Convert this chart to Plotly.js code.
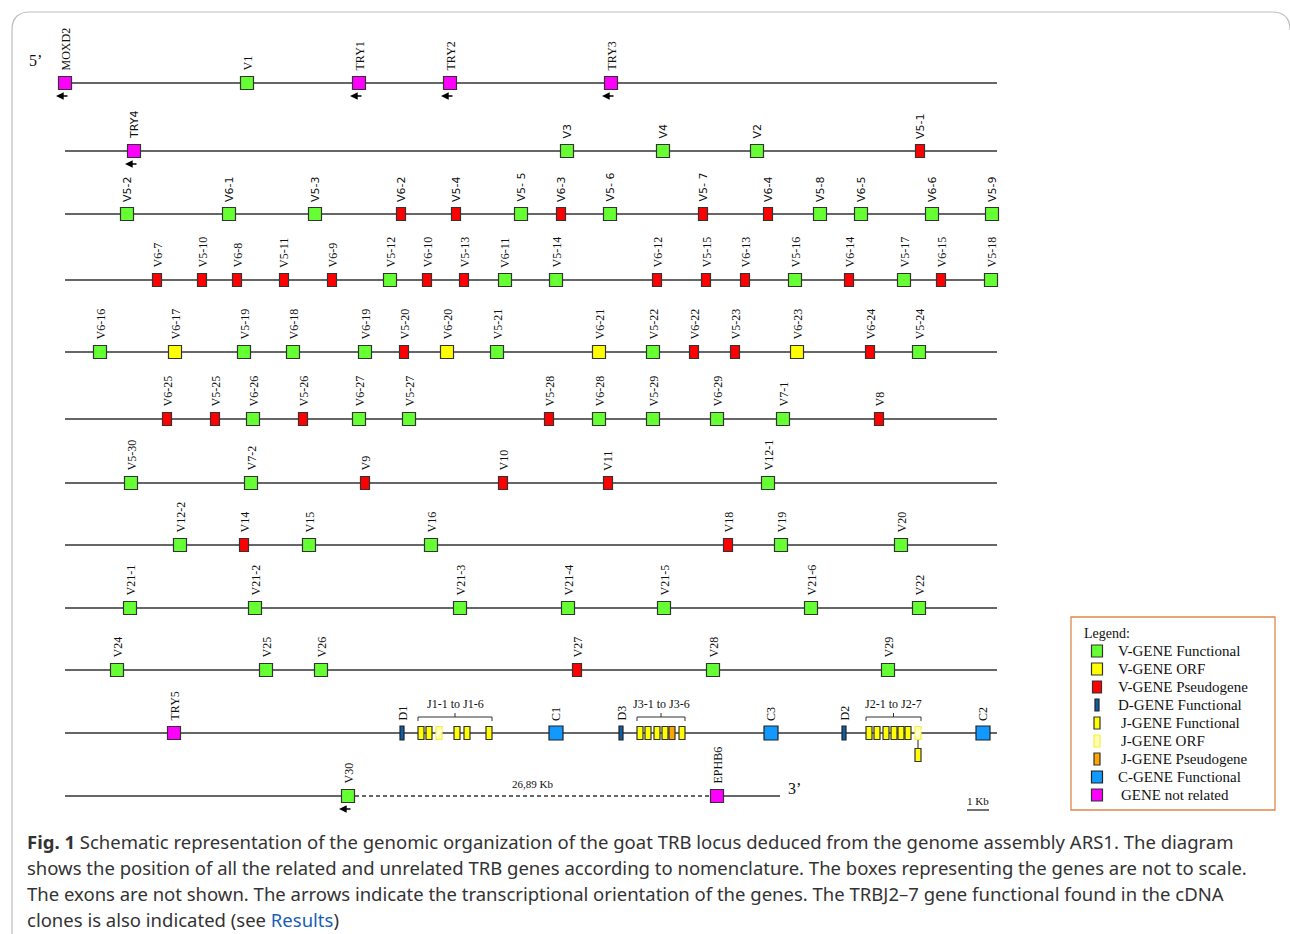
<!DOCTYPE html>
<html><head><meta charset="utf-8">
<script src="https://cdn.plot.ly/plotly-3.0.1.min.js"></script>
<style>html,body{margin:0;padding:0;background:#fff}#chart{width:1290px;height:934px}</style>
</head><body><div id="chart"></div>
<script>
// ---------------- DATA ----------------
const row1Genes = ["MOXD2","V1","TRY1","TRY2","TRY3"];
const row1Pos   = [65,247,359,450,611];
const row1Type  = ["N","F","N","N","N"];

const row2Genes = ["TRY4","V3","V4","V2","V5-1"];
const row2Pos   = [134,567,663,757,920];
const row2Type  = ["N","F","F","F","P"];

const row3Genes = ["V5-2","V6-1","V5-3","V6-2","V5-4","V5- 5","V6-3","V5- 6","V5- 7","V6-4","V5-8","V6-5","V6-6","V5-9"];
const row3Pos   = [127,229,315,401,456,521,561,610,703,768,820,861,932,992];
const row3Type  = ["F","F","F","P","P","F","P","F","P","P","F","F","F","F"];

const row4Genes = ["V6-7","V5-10","V6-8","V5-11","V6-9","V5-12","V6-10","V5-13","V6-11","V5-14","V6-12","V5-15","V6-13","V5-16","V6-14","V5-17","V6-15","V5-18"];
const row4Pos   = [157,202,237,284,332,390,427,464,505,556,657,706,745,795,849,904,941,991];
const row4Type  = ["P","P","P","P","P","F","P","P","F","F","P","P","P","F","P","F","P","F"];

const row5Genes = ["V6-16","V6-17","V5-19","V6-18","V6-19","V5-20","V6-20","V5-21","V6-21","V5-22","V6-22","V5-23","V6-23","V6-24","V5-24"];
const row5Pos   = [100,175,244,293,365,404,447,497,599,653,694,735,797,870,919];
const row5Type  = ["F","O","F","F","F","P","O","F","O","F","P","P","O","P","F"];

const row6Genes = ["V6-25","V5-25","V6-26","V5-26","V6-27","V5-27","V5-28","V6-28","V5-29","V6-29","V7-1","V8"];
const row6Pos   = [167,215,253,303,359,409,549,599,653,717,783,879];
const row6Type  = ["P","P","F","P","F","F","P","F","F","F","F","P"];

const row7Genes = ["V5-30","V7-2","V9","V10","V11","V12-1"];
const row7Pos   = [131,251,365,503,608,768];
const row7Type  = ["F","F","P","P","P","F"];

const row8Genes = ["V12-2","V14","V15","V16","V18","V19","V20"];
const row8Pos   = [180,244,309,431,728,781,901];
const row8Type  = ["F","P","F","F","P","F","F"];

const row9Genes = ["V21-1","V21-2","V21-3","V21-4","V21-5","V21-6","V22"];
const row9Pos   = [130,255,460,568,664,811,919];
const row9Type  = ["F","F","F","F","F","F","F"];

const row10Genes = ["V24","V25","V26","V27","V28","V29"];
const row10Pos   = [117,266,321,577,713,888];
const row10Type  = ["F","F","F","P","F","F"];

const row11Genes = ["TRY5","D1","C1","D3","C3","D2","C2"];
const row11Pos   = [174,402,556,621,771,844,983];
const row11Type  = ["N","D","C","D","C","D","C"];

const j1Pos  = [421,429,439,457,467,489];
const j1Type = ["J","J","JO","J","J","J"];
const j3Pos  = [640,648,657,665,672,682];
const j3Type = ["J","J","J","J","JP","J"];
const j2Pos  = [869,877,886,894,901,908,918];
const j2Type = ["J","J","J","J","J","J","JO"];
const jClusterLabels = ["J1-1 to J1-6","J3-1 to J3-6","J2-1 to J2-7"];
const cDNAJ = {pos: 918, type: "J"};

const row12Genes = ["V30","EPHB6"];
const row12Pos   = [348,717];
const row12Type  = ["F","N"];
const gapLabel   = "26,89 Kb";

const reverseGenes = ["MOXD2","TRY1","TRY2","TRY3","TRY4","V30"];

const legendLabels = ["V-GENE Functional","V-GENE ORF","V-GENE Pseudogene","D-GENE Functional","J-GENE Functional","J-GENE ORF","J-GENE Pseudogene","C-GENE Functional","GENE not related"];
const legendTypes  = ["F","O","P","D","J","JO","JP","C","N"];

const captionLines = [
  "<b>Fig. 1</b> Schematic representation of the genomic organization of the goat TRB locus deduced from the genome assembly ARS1. The diagram",
  "shows the position of all the related and unrelated TRB genes according to nomenclature. The boxes representing the genes are not to scale.",
  "The exons are not shown. The arrows indicate the transcriptional orientation of the genes. The TRBJ2–7 gene functional found in the cDNA",
  "clones is also indicated (see <span style=\"color:#1a5fb4\">Results</span>)"
];

// ---------------- STYLE / LAYOUT ----------------
const STY = {
  F:  {fill:'#66ff33', w:13, h:13, line:'#333'},
  O:  {fill:'#ffff00', w:13, h:13, line:'#333'},
  P:  {fill:'#ff0000', w:9,  h:13, line:'#333'},
  N:  {fill:'#ff00ff', w:13, h:13, line:'#333'},
  D:  {fill:'#0d5ea8', w:4,  h:14, line:'#222'},
  J:  {fill:'#ffff00', w:6,  h:13, line:'#333'},
  JO: {fill:'#ffffb0', w:6,  h:13, line:'#f5ee40'},
  JP: {fill:'#ffa500', w:6,  h:13, line:'#333'},
  C:  {fill:'#1199ff', w:14, h:14, line:'#222'}
};
const ROW_Y = [83,151,214,280,352,419,483,545,608,670,733,796];
const LINE_START = 65, LINE_END = 997;
const SERIF = 'Liberation Serif, Times New Roman, serif';
const SANS  = 'DejaVu Sans, sans-serif';

const rows = [
  [row1Genes,row1Pos,row1Type,SERIF,12],
  [row2Genes,row2Pos,row2Type,SANS,11],
  [row3Genes,row3Pos,row3Type,SANS,11],
  [row4Genes,row4Pos,row4Type,SERIF,12],
  [row5Genes,row5Pos,row5Type,SERIF,12],
  [row6Genes,row6Pos,row6Type,SERIF,12],
  [row7Genes,row7Pos,row7Type,SERIF,12],
  [row8Genes,row8Pos,row8Type,SERIF,12],
  [row9Genes,row9Pos,row9Type,SERIF,12],
  [row10Genes,row10Pos,row10Type,SERIF,12],
  [row11Genes,row11Pos,row11Type,SERIF,12],
  [row12Genes,row12Pos,row12Type,SERIF,12]
];

const traces = [];
const shapes = [];
const ann = [];

function box(x, y, t) {
  const s = STY[t];
  shapes.push({type:'rect', xref:'x', yref:'y', x0:x - s.w/2, x1:x + s.w/2, y0:y - s.h/2, y1:y + s.h/2,
    fillcolor:s.fill, line:{color:s.line, width:1.2}, layer:'above'});
  if (t === 'JO') {
    shapes.push({type:'line', xref:'x', yref:'y', x0:x - s.w/2, y0:y + 3, x1:x + s.w/2, y1:y - 3,
      line:{color:'#ffffff', width:1.5}, layer:'above'});
  }
}
function label(x, y, text, font, size) {
  ann.push({x:x, y:y, xref:'x', yref:'y', text:text, showarrow:false, textangle:-90,
    xanchor:'center', yanchor:'bottom', font:{family:font, size:size||11, color:'#111'}});
}
function lineTrace(x0, x1, y, dash, color) {
  traces.push({type:'scatter', mode:'lines', x:[x0,x1], y:[y,y], hoverinfo:'skip', showlegend:false,
    line:{color:color||'#333', width:1.3, dash:dash||'solid'}});
}

// backbone lines
ROW_Y.forEach((y, i) => {
  if (i === 11) {
    lineTrace(LINE_START, row12Pos[0], y);
    lineTrace(row12Pos[0], row12Pos[1], y, '4px,3px');
    lineTrace(row12Pos[1], 780, y);
  } else {
    lineTrace(LINE_START, LINE_END, y);
  }
});

rows.forEach((r, i) => {
  const [g, p, t, font, fs] = r;
  const y = ROW_Y[i];
  g.forEach((name, k) => {
    box(p[k], y, t[k]);
    label(p[k], y - 10, name, font, fs);
    if (reverseGenes.includes(name)) {
      ann.push({x:p[k] - 9, y:y + 13, ax:p[k] + 4, ay:y + 13, xref:'x', yref:'y', axref:'x', ayref:'y',
        text:'', showarrow:true, arrowhead:2, arrowsize:1.1, arrowwidth:1.4, arrowcolor:'#000'});
    }
  });
});

// J clusters
const yJ = ROW_Y[10];
[[j1Pos,j1Type],[j3Pos,j3Type],[j2Pos,j2Type]].forEach((c, i) => {
  const [p, t] = c;
  p.forEach((x, k) => box(x, yJ, t[k]));
  const xa = p[0] - 3, xb = p[p.length-1] + 3, yb = yJ - 16, xm = (xa + xb) / 2;
  shapes.push({type:'path', xref:'x', yref:'y', path:`M${xa},${yb+4} L${xa},${yb} L${xb},${yb} L${xb},${yb+4} M${xm},${yb} L${xm},${yb-4}`,
    line:{color:'#333', width:1}});
  ann.push({x:xm, y:yb - 4, xref:'x', yref:'y', text:jClusterLabels[i], showarrow:false,
    xanchor:'center', yanchor:'bottom', font:{family:SERIF, size:12, color:'#111'}});
});
// cDNA J2-7 indication
shapes.push({type:'line', xref:'x', yref:'y', x0:cDNAJ.pos, x1:cDNAJ.pos, y0:yJ + 7, y1:yJ + 15, line:{color:'#555', width:1.3}});
box(cDNAJ.pos, yJ + 22, cDNAJ.type);

// texts on row ends
ann.push({x:35, y:60, xref:'x', yref:'y', text:"5’", showarrow:false, font:{family:SERIF, size:16, color:'#111'}});
ann.push({x:794, y:ROW_Y[11] - 8, xref:'x', yref:'y', text:"3’", showarrow:false, font:{family:SERIF, size:16, color:'#111'}});
ann.push({x:(row12Pos[0]+row12Pos[1])/2, y:ROW_Y[11] - 12, xref:'x', yref:'y', text:gapLabel, showarrow:false,
  font:{family:SERIF, size:11, color:'#111'}});
// scale bar
shapes.push({type:'line', xref:'x', yref:'y', x0:967, x1:989, y0:810, y1:810, line:{color:'#111', width:1.2}});
ann.push({x:978, y:801, xref:'x', yref:'y', text:"1 Kb", showarrow:false, font:{family:SERIF, size:11, color:'#111'}});

// legend
shapes.push({type:'rect', xref:'x', yref:'y', x0:1071, x1:1275, y0:617, y1:810, line:{color:'#e0884a', width:1.3}, fillcolor:'rgba(0,0,0,0)'});
ann.push({x:1082, y:633, xref:'x', yref:'y', text:"Legend:", showarrow:false, xanchor:'left', font:{family:SERIF, size:14, color:'#111'}});
legendLabels.forEach((lab, k) => {
  const y = 651 + k * 18;
  const t = legendTypes[k];
  const s = STY[t];
  const bx = 1097;
  shapes.push({type:'rect', xref:'x', yref:'y', x0:bx - Math.min(s.w,11)/2, x1:bx + Math.min(s.w,11)/2, y0:y - 6, y1:y + 6,
    fillcolor:s.fill, line:{color:s.line, width:1.2}});
  const tx = (t[0] === 'J' || t === 'N') ? 1119 : 1116;
  ann.push({x:tx, y:y, xref:'x', yref:'y', text:lab, showarrow:false, xanchor:'left',
    font:{family:SERIF, size:15, color:'#111'}});
});

// frame
shapes.push({type:'path', xref:'x', yref:'y', path:'M12,934 L12,30 Q12,12 30,12 L1272,12 Q1290,12 1290,30',
  line:{color:'#bdbdbd', width:1.2}});

// caption
captionLines.forEach((txt, k) => {
  ann.push({x:25, y:841 + k*26, xref:'x', yref:'y', text:txt, showarrow:false, xanchor:'left', yanchor:'middle',
    font:{family:'Noto Sans, Open Sans, sans-serif', size:18.5, color:'#333'}});
});

const layout = {
  width:1290, height:934, margin:{l:0,r:0,t:0,b:0}, paper_bgcolor:'#fff', plot_bgcolor:'#fff',
  xaxis:{range:[0,1290], visible:false, fixedrange:true},
  yaxis:{range:[934,0], visible:false, fixedrange:true},
  shapes:shapes, annotations:ann, showlegend:false
};
Plotly.newPlot('chart', traces, layout, {displayModeBar:false, staticPlot:true});
</script></body></html>
